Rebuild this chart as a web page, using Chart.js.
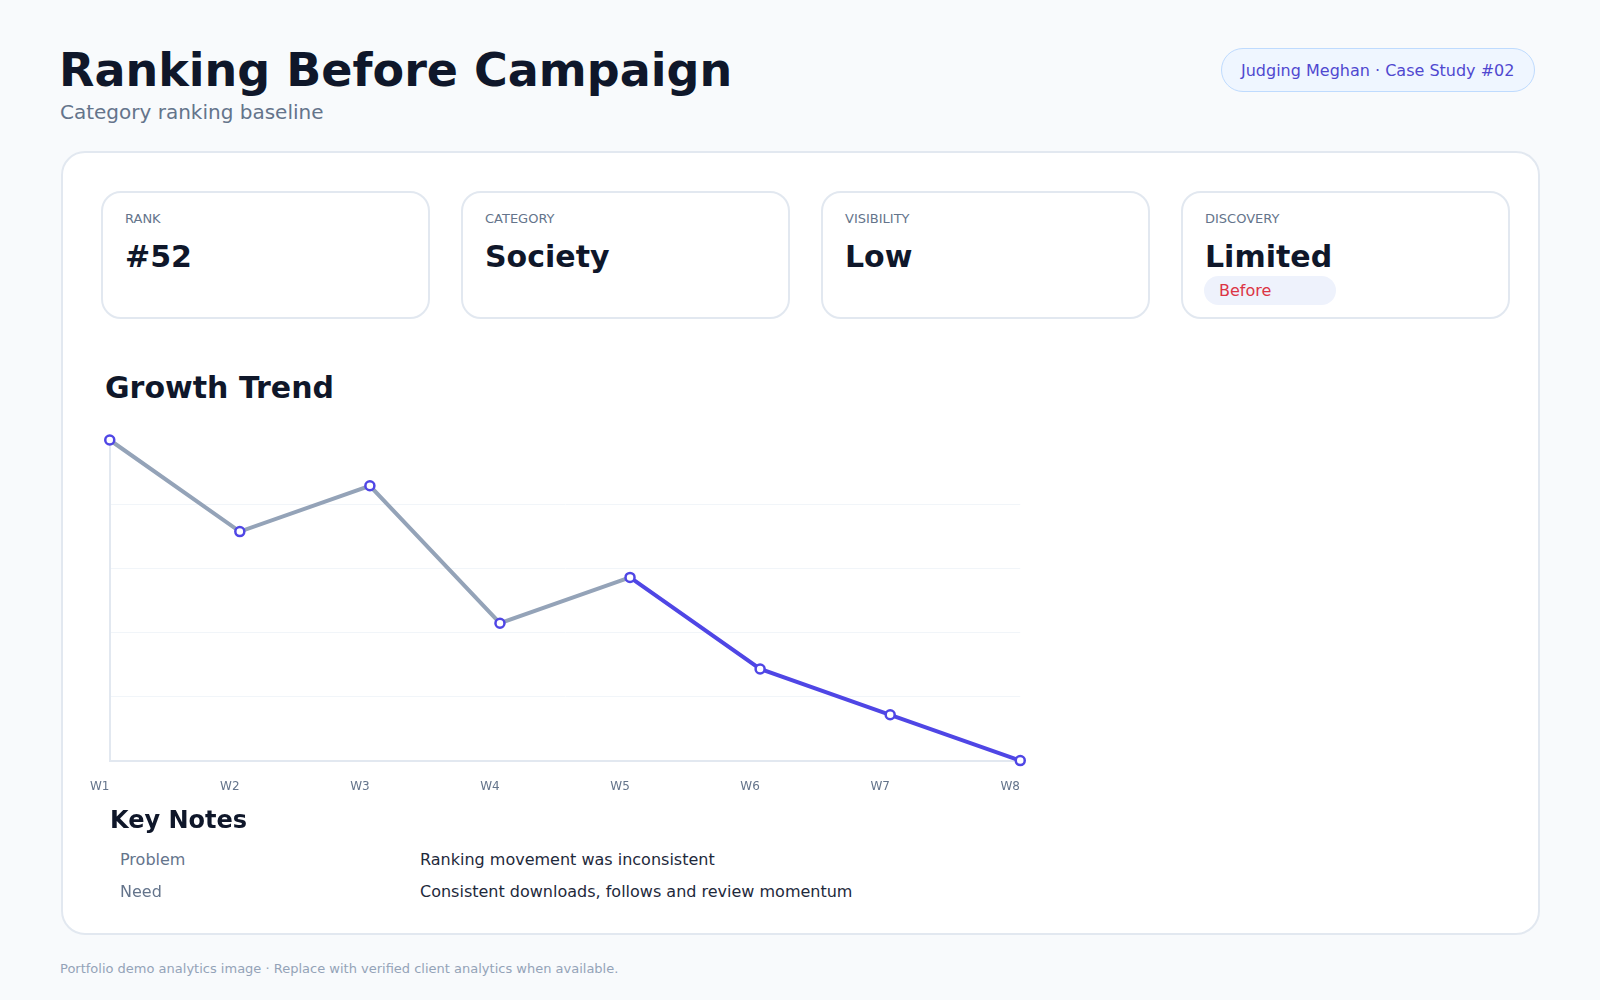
<!DOCTYPE html>
<html>
<head>
<meta charset="utf-8">
<script src="https://cdn.jsdelivr.net/npm/chart.js@4.4.1/dist/chart.umd.min.js"></script>
<style>
  body { margin: 0; width: 1600px; height: 1000px; background: #f8fafc; font-family: "DejaVu Sans", sans-serif; position: relative; overflow: hidden; }
  .abs { position: absolute; white-space: nowrap; }
  .title { left: 59px; top: 47px; font-size: 46px; line-height: 46px; font-weight: bold; color: #0f172a; }
  .subtitle { left: 60px; top: 102px; font-size: 20px; line-height: 20px; color: #64748b; }
  .badge { left: 1221px; top: 48px; width: 314px; height: 44px; box-sizing: border-box; border: 1px solid #bfdbfe; background: #eff6ff; border-radius: 22px; font-size: 16px; color: #5048d0; display: flex; align-items: center; padding-left: 19px; }
  .panel { left: 61px; top: 151px; width: 1479px; height: 784px; box-sizing: border-box; border: 2px solid #e2e8f0; background: #fff; border-radius: 24px; }
  .stat { top: 191px; width: 329px; height: 128px; box-sizing: border-box; border: 2px solid #e2e8f0; background: #fff; border-radius: 20px; }
  .stat .lab { position: absolute; left: 22px; top: 19px; font-size: 13px; line-height: 13px; color: #64748b; }
  .stat .val { position: absolute; left: 22px; top: 49px; font-size: 30px; line-height: 30px; font-weight: bold; color: #0f172a; }
  .pill { position: absolute; left: 21px; top: 83px; width: 132px; height: 29px; border-radius: 15px; background: #eef2fc; color: #dc3545; font-size: 16px; line-height: 29px; padding-left: 15px; box-sizing: border-box; }
  .h2 { left: 105px; top: 373px; font-size: 30px; line-height: 30px; font-weight: bold; color: #0f172a; }
  .h3 { left: 110px; top: 808px; font-size: 24px; line-height: 24px; font-weight: bold; color: #0f172a; }
  .nk { left: 120px; font-size: 16px; line-height: 16px; color: #64748b; }
  .nv { left: 420px; font-size: 16px; line-height: 16px; color: #1e293b; }
  .foot { left: 60px; top: 962px; font-size: 13px; line-height: 13px; color: #94a3b8; }
  #wrap { position: absolute; left: 81px; top: 430px; width: 968px; height: 383px; }
</style>
</head>
<body>
<div class="abs title">Ranking Before Campaign</div>
<div class="abs subtitle">Category ranking baseline</div>
<div class="abs badge">Judging Meghan · Case Study #02</div>
<div class="abs panel"></div>
<div id="stats"></div>
<div class="abs h2">Growth Trend</div>
<div id="wrap"><canvas id="trend"></canvas></div>
<div class="abs h3">Key Notes</div>
<div id="notes"></div>
<div class="abs foot">Portfolio demo analytics image · Replace with verified client analytics when available.</div>

<script>
const weeks = ["W1", "W2", "W3", "W4", "W5", "W6", "W7", "W8"];
const rankValues = [38, 42, 40, 46, 44, 48, 50, 52];
const statLabels = ["RANK", "CATEGORY", "VISIBILITY", "DISCOVERY"];
const statValues = ["#52", "Society", "Low", "Limited"];
const noteKeys = ["Problem", "Need"];
const noteValues = ["Ranking movement was inconsistent", "Consistent downloads, follows and review momentum"];

const gray = "#94a3b8";
const indigo = "#4f46e5";

// stat cards
const statsEl = document.getElementById("stats");
statLabels.forEach((lab, i) => {
  const card = document.createElement("div");
  card.className = "abs stat";
  card.style.left = (101 + i * 360) + "px";
  card.innerHTML = `<div class="lab">${lab}</div><div class="val">${statValues[i]}</div>` +
    (i === 3 ? `<div class="pill">Before</div>` : "");
  statsEl.appendChild(card);
});

// notes
const notesEl = document.getElementById("notes");
noteKeys.forEach((k, i) => {
  const top = 852 + i * 32;
  notesEl.insertAdjacentHTML("beforeend",
    `<div class="abs nk" style="top:${top}px">${k}</div><div class="abs nv" style="top:${top}px">${noteValues[i]}</div>`);
});

new Chart(document.getElementById("trend"), {
  type: "line",
  data: {
    labels: weeks,
    datasets: [{
      data: rankValues,
      borderColor: indigo,
      borderWidth: 4,
      segment: { borderColor: ctx => ctx.p0DataIndex >= 4 ? indigo : gray },
      pointRadius: 4.5,
      pointBorderWidth: 2.5,
      pointBorderColor: indigo,
      pointBackgroundColor: "#fff",
      tension: 0,
      clip: false
    }]
  },
  options: {
    responsive: true,
    maintainAspectRatio: false,
    animation: false,
    layout: { padding: { left: 0, right: 0, top: 10, bottom: 0 } },
    plugins: { legend: { display: false }, tooltip: { enabled: false } },
    scales: {
      x: {
        offset: false,
        grid: { display: false, drawTicks: false },
        border: { display: true, color: "#e2e8f0", width: 2 },
        ticks: { color: "#64748b", font: { family: "DejaVu Sans", size: 12 }, padding: 19, labelOffset: -10 }
      },
      y: {
        reverse: true,
        min: 38,
        max: 52,
        grid: { drawTicks: false, color: ctx => (ctx.index === 0 || ctx.index === 5) ? "rgba(0,0,0,0)" : "#f1f5f9" },
        border: { display: true, color: "#e2e8f0", width: 2 },
        ticks: { display: false, count: 6 }
      }
    }
  }
});
</script>
</body>
</html>
